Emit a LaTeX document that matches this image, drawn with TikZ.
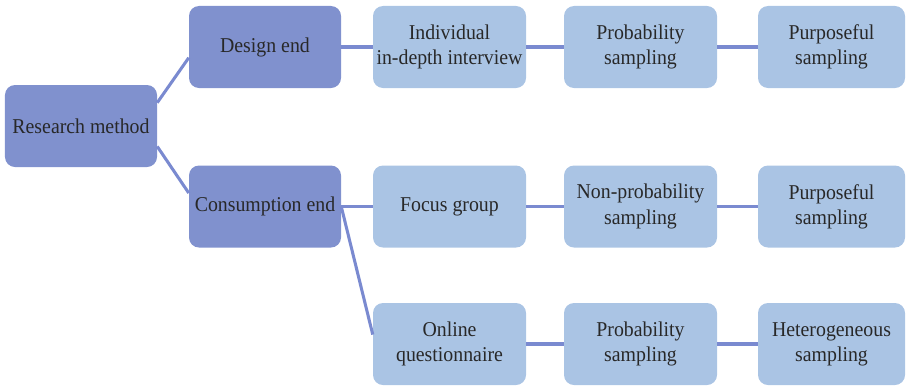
\documentclass[tikz,border=0pt]{standalone}
\usepackage{fontspec}
\setmainfont{Liberation Serif}[FakeStretch=0.94]
\definecolor{darkbox}{RGB}{128,145,206}
\definecolor{lightbox}{RGB}{170,196,228}
\definecolor{linkcol}{RGB}{122,138,208}
\definecolor{txtcol}{RGB}{40,40,40}
\begin{document}
\begin{tikzpicture}[x=0.03cm, y=-0.03cm,
  box/.style={rounded corners=0.3cm, minimum width=4.56cm, minimum height=2.46cm,
    inner sep=0pt, align=center, text=txtcol, font=\fontsize{18}{21.5}\selectfont},
  dbox/.style={box, fill=darkbox},
  lbox/.style={box, fill=lightbox, minimum width=4.59cm},
  link/.style={linkcol, line width=2.6pt}]
\useasboundingbox (0,0) rectangle (906,388);
% Raiz e primeiro nivel
\node[dbox] (rm) at (81,126) {Research method};
\node[dbox] (de) at (265,47) {Design end};
\node[dbox] (ce) at (265,206.5) {Consumption end};
% Linha 1
\node[lbox] (idi) at (449.5,47) {Individual\\in-depth interview};
\node[lbox] (ps1) at (640.5,47) {Probability\\sampling};
\node[lbox, minimum width=4.41cm] (pu1) at (831.5,47) {Purposeful\\sampling};
% Linha 2
\node[lbox] (fg) at (449.5,206.5) {Focus group};
\node[lbox] (nps) at (640.5,206.5) {Non-probability\\sampling};
\node[lbox, minimum width=4.41cm] (pu2) at (831.5,206.5) {Purposeful\\sampling};
% Linha 3
\node[lbox] (oq) at (449.5,344) {Online\\questionnaire};
\node[lbox] (ps2) at (640.5,344) {Probability\\sampling};
\node[lbox, minimum width=4.41cm] (hs) at (831.5,344) {Heterogeneous\\sampling};
% Ligacoes
\draw[link] (rm.17) -- (de.188);
\draw[link] (rm.-15) -- (ce.170);
\draw[link] (de.east) -- (idi.west);
\draw[link] (idi.east) -- (ps1.west);
\draw[link] (ps1.east) -- (pu1.west);
\draw[link] (ce.east) -- (fg.west);
\draw[link] (fg.east) -- (nps.west);
\draw[link] (nps.east) -- (pu2.west);
\draw[link] (ce.east) -- (oq.173);
\draw[link] (oq.east) -- (ps2.west);
\draw[link] (ps2.east) -- (hs.west);
\end{tikzpicture}
\end{document}
